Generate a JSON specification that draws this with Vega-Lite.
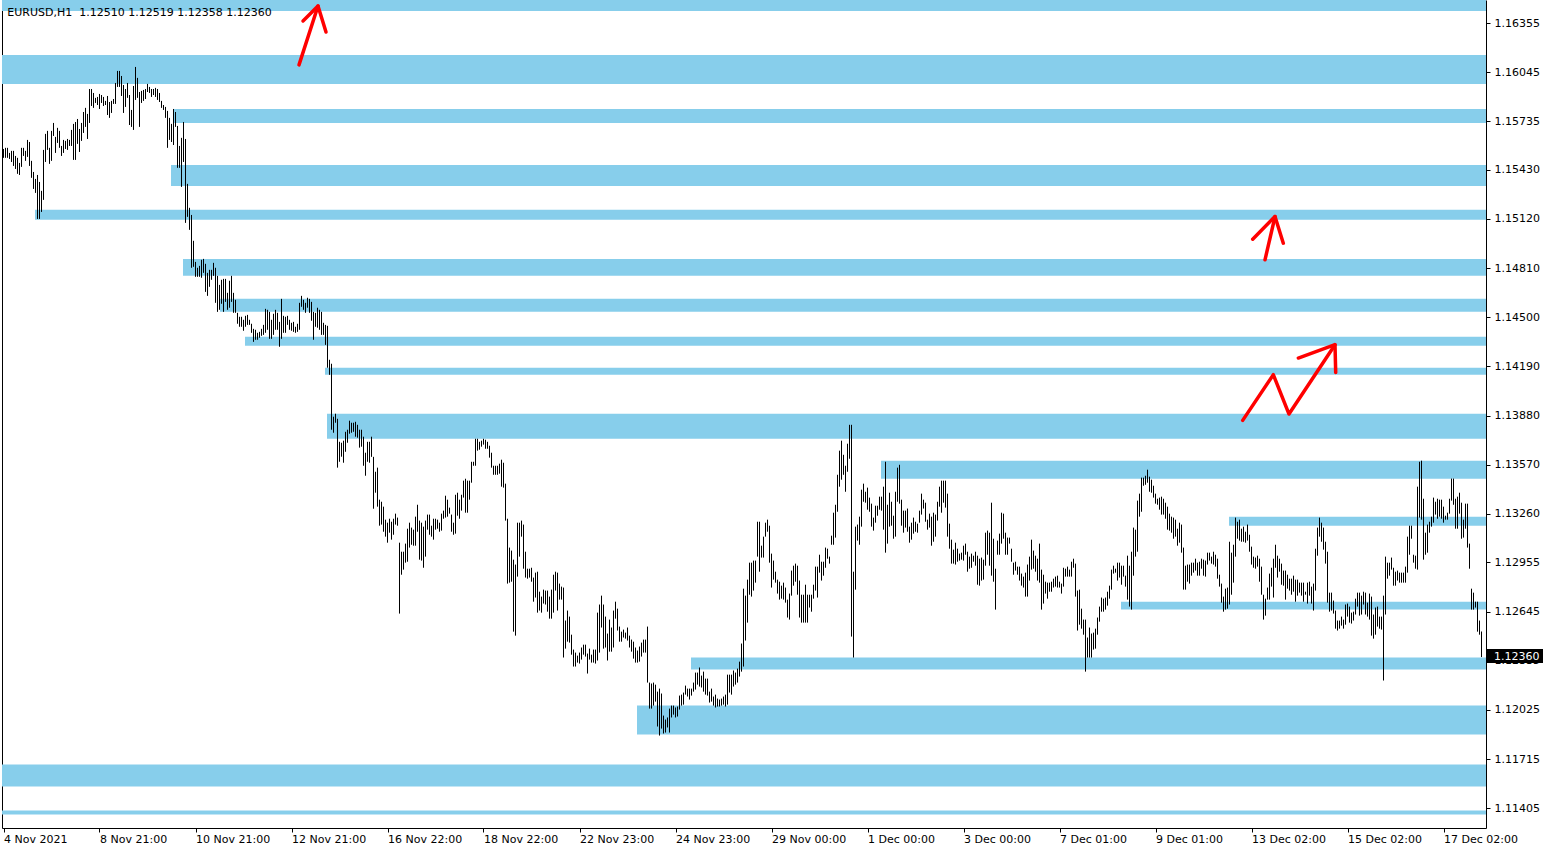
{
"$schema":"https://vega.github.io/schema/vega-lite/v6.json",
"width":1484,"height":828,"autosize":"none",
"padding":{"left":2,"top":0,"right":64,"bottom":22},
"background":"white",
"config":{"view":{"stroke":null},"axis":{"grid":false,"labelFont":"DejaVu Sans","labelFontSize":11,"labelColor":"#000","domainColor":"#000","tickColor":"#000","title":null,"zindex":1}},
"datasets":{
"zones":[{"s":-0.75,"t":1.165,"b":1.16431},{"s":-0.75,"t":1.16154,"b":1.15971},{"s":84.75,"t":1.15813,"b":1.15725},{"s":83.75,"t":1.1546,"b":1.15328},{"s":15.75,"t":1.15177,"b":1.15114},{"s":89.75,"t":1.14868,"b":1.14761},{"s":108.25,"t":1.14616,"b":1.14534},{"s":120.75,"t":1.14377,"b":1.1432},{"s":160.75,"t":1.14182,"b":1.14137},{"s":161.75,"t":1.13892,"b":1.13734},{"s":438.75,"t":1.13596,"b":1.13482},{"s":612.75,"t":1.13243,"b":1.13186},{"s":558.75,"t":1.12707,"b":1.12657},{"s":343.75,"t":1.12355,"b":1.12279},{"s":316.75,"t":1.12052,"b":1.1187},{"s":-0.75,"t":1.11681,"b":1.11542},{"s":-0.75,"t":1.11391,"b":1.11366}],
"arrows":[{"seg":"a1","k":0,"i":147.75,"p":1.16091},{"seg":"a1","k":1,"i":157.25,"p":1.16462},{"seg":"a1h","k":0,"i":149.75,"p":1.16368},{"seg":"a1h","k":1,"i":157.25,"p":1.16462},{"seg":"a1h","k":2,"i":161.25,"p":1.16298},{"seg":"a2","k":0,"i":630.75,"p":1.14862},{"seg":"a2","k":1,"i":635.75,"p":1.15135},{"seg":"a2h","k":0,"i":624.6,"p":1.14992},{"seg":"a2h","k":1,"i":635.75,"p":1.15135},{"seg":"a2h","k":2,"i":639.9,"p":1.14967},{"seg":"a3","k":0,"i":619.6,"p":1.1385},{"seg":"a3","k":1,"i":634.9,"p":1.14138},{"seg":"a3","k":2,"i":642.75,"p":1.1389},{"seg":"a3","k":3,"i":665.75,"p":1.14327},{"seg":"a3h","k":0,"i":647.4,"p":1.14243},{"seg":"a3h","k":1,"i":665.75,"p":1.14327},{"seg":"a3h","k":2,"i":666.1,"p":1.14152}],
"header":[{"t":"EURUSD,H1\u00a0 1.12510 1.12519 1.12358 1.12360"}],
"price":[{"p":1.1236,"t":"1.12360"}],
"bars":[
{"i":0,"h":1.15561,"l":1.15505},{"i":1,"h":1.15568,"l":1.15505},{"i":2,"h":1.15568,"l":1.15505},{"i":3,"h":1.15536,"l":1.15498},{"i":4,"h":1.15549,"l":1.15479},{"i":5,"h":1.15549,"l":1.15454},{"i":6,"h":1.15517,"l":1.15435},{"i":7,"h":1.15505,"l":1.15404},{"i":8,"h":1.15473,"l":1.15397},{"i":9,"h":1.15568,"l":1.15448},
{"i":10,"h":1.15568,"l":1.15517},{"i":11,"h":1.15549,"l":1.15486},{"i":12,"h":1.15618,"l":1.15511},{"i":13,"h":1.15605,"l":1.15454},{"i":14,"h":1.15486,"l":1.15379},{"i":15,"h":1.15416,"l":1.15309},{"i":16,"h":1.15372,"l":1.15284},{"i":17,"h":1.15397,"l":1.1512},{"i":18,"h":1.15353,"l":1.1512},{"i":19,"h":1.15297,"l":1.15164},
{"i":20,"h":1.15555,"l":1.1524},{"i":21,"h":1.15656,"l":1.15479},{"i":22,"h":1.15675,"l":1.15555},{"i":23,"h":1.15568,"l":1.15467},{"i":24,"h":1.15675,"l":1.15486},{"i":25,"h":1.15725,"l":1.15643},{"i":26,"h":1.15637,"l":1.15536},{"i":27,"h":1.15694,"l":1.15599},{"i":28,"h":1.15675,"l":1.15568},{"i":29,"h":1.1558,"l":1.15517},
{"i":30,"h":1.15618,"l":1.15536},{"i":31,"h":1.15612,"l":1.15561},{"i":32,"h":1.15624,"l":1.15555},{"i":33,"h":1.15618,"l":1.1558},{"i":34,"h":1.15681,"l":1.1558},{"i":35,"h":1.15719,"l":1.15492},{"i":36,"h":1.15731,"l":1.15492},{"i":37,"h":1.1575,"l":1.15593},{"i":38,"h":1.15687,"l":1.15542},{"i":39,"h":1.15725,"l":1.15612},
{"i":40,"h":1.15794,"l":1.15662},{"i":41,"h":1.1582,"l":1.157},{"i":42,"h":1.15782,"l":1.15624},{"i":43,"h":1.15939,"l":1.15725},{"i":44,"h":1.15939,"l":1.15832},{"i":45,"h":1.15914,"l":1.1582},{"i":46,"h":1.15883,"l":1.15851},{"i":47,"h":1.15889,"l":1.15838},{"i":48,"h":1.15908,"l":1.15813},{"i":49,"h":1.15901,"l":1.15851},
{"i":50,"h":1.15889,"l":1.15832},{"i":51,"h":1.15864,"l":1.15838},{"i":52,"h":1.15895,"l":1.15775},{"i":53,"h":1.15857,"l":1.15757},{"i":54,"h":1.15864,"l":1.15788},{"i":55,"h":1.15876,"l":1.15845},{"i":56,"h":1.15977,"l":1.15845},{"i":57,"h":1.16053,"l":1.15952},{"i":58,"h":1.16053,"l":1.15952},{"i":59,"h":1.16021,"l":1.15895},
{"i":60,"h":1.15964,"l":1.15788},{"i":61,"h":1.15939,"l":1.15826},{"i":62,"h":1.15977,"l":1.15883},{"i":63,"h":1.15901,"l":1.15712},{"i":64,"h":1.15807,"l":1.157},{"i":65,"h":1.15958,"l":1.15681},{"i":66,"h":1.16078,"l":1.1587},{"i":67,"h":1.16009,"l":1.15883},{"i":68,"h":1.1592,"l":1.157},{"i":69,"h":1.15927,"l":1.15851},
{"i":70,"h":1.15933,"l":1.15864},{"i":71,"h":1.15939,"l":1.15876},{"i":72,"h":1.15971,"l":1.1592},{"i":73,"h":1.15952,"l":1.15914},{"i":74,"h":1.15939,"l":1.15889},{"i":75,"h":1.15939,"l":1.15901},{"i":76,"h":1.15946,"l":1.15889},{"i":77,"h":1.15939,"l":1.1587},{"i":78,"h":1.15914,"l":1.15857},{"i":79,"h":1.15864,"l":1.1582},
{"i":80,"h":1.15838,"l":1.15807},{"i":81,"h":1.15826,"l":1.15757},{"i":82,"h":1.15801,"l":1.15568},{"i":83,"h":1.15757,"l":1.15618},{"i":84,"h":1.15719,"l":1.15605},{"i":85,"h":1.15813,"l":1.15586},{"i":86,"h":1.15794,"l":1.157},{"i":87,"h":1.15706,"l":1.15442},{"i":88,"h":1.1558,"l":1.15442},{"i":89,"h":1.15631,"l":1.15322},
{"i":90,"h":1.15731,"l":1.15479},{"i":91,"h":1.15624,"l":1.15095},{"i":92,"h":1.15341,"l":1.15133},{"i":93,"h":1.1519,"l":1.15051},{"i":94,"h":1.15145,"l":1.14812},{"i":95,"h":1.14982,"l":1.14818},{"i":96,"h":1.14849,"l":1.14755},{"i":97,"h":1.14812,"l":1.14755},{"i":98,"h":1.14824,"l":1.14755},{"i":99,"h":1.14862,"l":1.14749},
{"i":100,"h":1.14868,"l":1.1478},{"i":101,"h":1.14837,"l":1.1466},{"i":102,"h":1.1478,"l":1.14635},{"i":103,"h":1.14799,"l":1.14692},{"i":104,"h":1.14799,"l":1.14736},{"i":105,"h":1.14843,"l":1.14761},{"i":106,"h":1.14812,"l":1.14591},{"i":107,"h":1.14761,"l":1.14534},{"i":108,"h":1.14704,"l":1.14547},{"i":109,"h":1.14736,"l":1.14585},
{"i":110,"h":1.14742,"l":1.14534},{"i":111,"h":1.14742,"l":1.14597},{"i":112,"h":1.14654,"l":1.14547},{"i":113,"h":1.1473,"l":1.1456},{"i":114,"h":1.14761,"l":1.14597},{"i":115,"h":1.14654,"l":1.14528},{"i":116,"h":1.1461,"l":1.14528},{"i":117,"h":1.14528,"l":1.14459},{"i":118,"h":1.14503,"l":1.1444},{"i":119,"h":1.14503,"l":1.1444},
{"i":120,"h":1.14484,"l":1.14415},{"i":121,"h":1.14509,"l":1.1444},{"i":122,"h":1.14515,"l":1.14452},{"i":123,"h":1.14484,"l":1.14452},{"i":124,"h":1.14459,"l":1.14402},{"i":125,"h":1.14427,"l":1.14345},{"i":126,"h":1.14421,"l":1.14358},{"i":127,"h":1.14402,"l":1.14358},{"i":128,"h":1.14408,"l":1.14371},{"i":129,"h":1.14427,"l":1.14383},
{"i":130,"h":1.14452,"l":1.14389},{"i":131,"h":1.14553,"l":1.14402},{"i":132,"h":1.14547,"l":1.14421},{"i":133,"h":1.14534,"l":1.14364},{"i":134,"h":1.14484,"l":1.14364},{"i":135,"h":1.14522,"l":1.14389},{"i":136,"h":1.14547,"l":1.14421},{"i":137,"h":1.14528,"l":1.14421},{"i":138,"h":1.14471,"l":1.14314},{"i":139,"h":1.14616,"l":1.14364},
{"i":140,"h":1.14509,"l":1.14402},{"i":141,"h":1.14503,"l":1.14402},{"i":142,"h":1.14509,"l":1.14452},{"i":143,"h":1.14484,"l":1.14421},{"i":144,"h":1.14465,"l":1.14415},{"i":145,"h":1.14471,"l":1.14408},{"i":146,"h":1.1444,"l":1.14402},{"i":147,"h":1.14459,"l":1.14408},{"i":148,"h":1.14591,"l":1.14421},{"i":149,"h":1.14635,"l":1.14566},
{"i":150,"h":1.1461,"l":1.14547},{"i":151,"h":1.14591,"l":1.14528},{"i":152,"h":1.14623,"l":1.1456},{"i":153,"h":1.14616,"l":1.14528},{"i":154,"h":1.14597,"l":1.14478},{"i":155,"h":1.14534,"l":1.14358},{"i":156,"h":1.14528,"l":1.1444},{"i":157,"h":1.1456,"l":1.14434},{"i":158,"h":1.14547,"l":1.14421},{"i":159,"h":1.14534,"l":1.14389},
{"i":160,"h":1.14465,"l":1.14389},{"i":161,"h":1.14452,"l":1.14326},{"i":162,"h":1.14446,"l":1.14182},{"i":163,"h":1.14232,"l":1.14137},{"i":164,"h":1.14207,"l":1.13791},{"i":165,"h":1.13873,"l":1.13772},{"i":166,"h":1.13892,"l":1.13835},{"i":167,"h":1.1386,"l":1.13552},{"i":168,"h":1.13715,"l":1.13589},{"i":169,"h":1.13709,"l":1.13621},
{"i":170,"h":1.13722,"l":1.13583},{"i":171,"h":1.13778,"l":1.13652},{"i":172,"h":1.13791,"l":1.13709},{"i":173,"h":1.13848,"l":1.13766},{"i":174,"h":1.13835,"l":1.13772},{"i":175,"h":1.13835,"l":1.13778},{"i":176,"h":1.13841,"l":1.13747},{"i":177,"h":1.13822,"l":1.13741},{"i":178,"h":1.13791,"l":1.13678},{"i":179,"h":1.13791,"l":1.13684},
{"i":180,"h":1.13747,"l":1.13564},{"i":181,"h":1.13646,"l":1.13501},{"i":182,"h":1.13715,"l":1.13589},{"i":183,"h":1.13715,"l":1.13583},{"i":184,"h":1.13747,"l":1.1362},{"i":185,"h":1.1362,"l":1.13293},{"i":186,"h":1.13526,"l":1.13394},{"i":187,"h":1.13552,"l":1.13306},{"i":188,"h":1.1335,"l":1.13186},{"i":189,"h":1.13337,"l":1.13193},
{"i":190,"h":1.13306,"l":1.13148},{"i":191,"h":1.13224,"l":1.13117},{"i":192,"h":1.13205,"l":1.13079},{"i":193,"h":1.1323,"l":1.13142},{"i":194,"h":1.13211,"l":1.13098},{"i":195,"h":1.1323,"l":1.13129},{"i":196,"h":1.13262,"l":1.13193},{"i":197,"h":1.13237,"l":1.13186},{"i":198,"h":1.13079,"l":1.12632},{"i":199,"h":1.13022,"l":1.12877},
{"i":200,"h":1.13022,"l":1.12909},{"i":201,"h":1.13073,"l":1.12953},{"i":202,"h":1.13167,"l":1.12959},{"i":203,"h":1.13205,"l":1.13048},{"i":204,"h":1.13174,"l":1.13066},{"i":205,"h":1.13161,"l":1.1306},{"i":206,"h":1.13243,"l":1.1306},{"i":207,"h":1.13318,"l":1.13148},{"i":208,"h":1.13218,"l":1.12972},{"i":209,"h":1.13205,"l":1.12966},
{"i":210,"h":1.1318,"l":1.12921},{"i":211,"h":1.13218,"l":1.12991},{"i":212,"h":1.13256,"l":1.13161},{"i":213,"h":1.13256,"l":1.13129},{"i":214,"h":1.13186,"l":1.13117},{"i":215,"h":1.1323,"l":1.13098},{"i":216,"h":1.1323,"l":1.13161},{"i":217,"h":1.13224,"l":1.13167},{"i":218,"h":1.13205,"l":1.13148},{"i":219,"h":1.13262,"l":1.13155},
{"i":220,"h":1.13281,"l":1.1323},{"i":221,"h":1.13375,"l":1.13237},{"i":222,"h":1.1335,"l":1.13243},{"i":223,"h":1.133,"l":1.13262},{"i":224,"h":1.13256,"l":1.13148},{"i":225,"h":1.13205,"l":1.13129},{"i":226,"h":1.13381,"l":1.13136},{"i":227,"h":1.13394,"l":1.13249},{"i":228,"h":1.1335,"l":1.1323},{"i":229,"h":1.13381,"l":1.13281},
{"i":230,"h":1.1347,"l":1.13363},{"i":231,"h":1.13482,"l":1.13268},{"i":232,"h":1.1347,"l":1.13268},{"i":233,"h":1.1347,"l":1.1335},{"i":234,"h":1.13589,"l":1.13457},{"i":235,"h":1.13589,"l":1.13564},{"i":236,"h":1.13734,"l":1.13564},{"i":237,"h":1.13734,"l":1.13659},{"i":238,"h":1.13715,"l":1.13665},{"i":239,"h":1.13722,"l":1.13684},
{"i":240,"h":1.13734,"l":1.13697},{"i":241,"h":1.13728,"l":1.13671},{"i":242,"h":1.13715,"l":1.13671},{"i":243,"h":1.1369,"l":1.13615},{"i":244,"h":1.13646,"l":1.13552},{"i":245,"h":1.13564,"l":1.13507},{"i":246,"h":1.13564,"l":1.13507},{"i":247,"h":1.13564,"l":1.13507},{"i":248,"h":1.13577,"l":1.13514},{"i":249,"h":1.13602,"l":1.13432},
{"i":250,"h":1.13583,"l":1.13426},{"i":251,"h":1.13451,"l":1.13218},{"i":252,"h":1.1323,"l":1.12821},{"i":253,"h":1.13048,"l":1.12827},{"i":254,"h":1.13029,"l":1.12833},{"i":255,"h":1.12972,"l":1.12518},{"i":256,"h":1.12941,"l":1.12493},{"i":257,"h":1.13205,"l":1.12865},{"i":258,"h":1.13205,"l":1.12991},{"i":259,"h":1.13218,"l":1.13117},
{"i":260,"h":1.13193,"l":1.12915},{"i":261,"h":1.13022,"l":1.12859},{"i":262,"h":1.12915,"l":1.12852},{"i":263,"h":1.12915,"l":1.12859},{"i":264,"h":1.12921,"l":1.12833},{"i":265,"h":1.12859,"l":1.12707},{"i":266,"h":1.1289,"l":1.12733},{"i":267,"h":1.12896,"l":1.12638},{"i":268,"h":1.1277,"l":1.12651},{"i":269,"h":1.12739,"l":1.12638},
{"i":270,"h":1.12783,"l":1.12695},{"i":271,"h":1.12777,"l":1.12689},{"i":272,"h":1.12777,"l":1.12644},{"i":273,"h":1.12739,"l":1.126},{"i":274,"h":1.12783,"l":1.126},{"i":275,"h":1.12877,"l":1.12638},{"i":276,"h":1.12896,"l":1.12777},{"i":277,"h":1.1289,"l":1.12651},{"i":278,"h":1.12821,"l":1.1272},{"i":279,"h":1.12802,"l":1.1272},
{"i":280,"h":1.12796,"l":1.12355},{"i":281,"h":1.12588,"l":1.12411},{"i":282,"h":1.12651,"l":1.12455},{"i":283,"h":1.12613,"l":1.12449},{"i":284,"h":1.12499,"l":1.12373},{"i":285,"h":1.12405,"l":1.12298},{"i":286,"h":1.12386,"l":1.12298},{"i":287,"h":1.12367,"l":1.12323},{"i":288,"h":1.12386,"l":1.12317},{"i":289,"h":1.12418,"l":1.12342},
{"i":290,"h":1.12436,"l":1.12373},{"i":291,"h":1.12436,"l":1.12361},{"i":292,"h":1.1238,"l":1.12254},{"i":293,"h":1.12411,"l":1.12342},{"i":294,"h":1.12373,"l":1.12323},{"i":295,"h":1.12405,"l":1.12323},{"i":296,"h":1.12405,"l":1.12317},{"i":297,"h":1.12638,"l":1.12336},{"i":298,"h":1.12689,"l":1.12386},{"i":299,"h":1.12745,"l":1.12544},
{"i":300,"h":1.12689,"l":1.12411},{"i":301,"h":1.12613,"l":1.12418},{"i":302,"h":1.12506,"l":1.12336},{"i":303,"h":1.12594,"l":1.12392},{"i":304,"h":1.12544,"l":1.12392},{"i":305,"h":1.12651,"l":1.12418},{"i":306,"h":1.12707,"l":1.126},{"i":307,"h":1.12663,"l":1.12525},{"i":308,"h":1.1255,"l":1.12455},{"i":309,"h":1.12518,"l":1.12455},
{"i":310,"h":1.12531,"l":1.12481},{"i":311,"h":1.12512,"l":1.12474},{"i":312,"h":1.12544,"l":1.12462},{"i":313,"h":1.12493,"l":1.12418},{"i":314,"h":1.12468,"l":1.12392},{"i":315,"h":1.12455,"l":1.12348},{"i":316,"h":1.12418,"l":1.12323},{"i":317,"h":1.12399,"l":1.12323},{"i":318,"h":1.12424,"l":1.12329},{"i":319,"h":1.12449,"l":1.12361},
{"i":320,"h":1.12468,"l":1.12386},{"i":321,"h":1.12468,"l":1.12386},{"i":322,"h":1.1255,"l":1.12197},{"i":323,"h":1.12197,"l":1.12033},{"i":324,"h":1.12191,"l":1.12033},{"i":325,"h":1.12197,"l":1.12052},{"i":326,"h":1.12184,"l":1.12077},{"i":327,"h":1.1214,"l":1.1192},{"i":328,"h":1.12159,"l":1.11863},{"i":329,"h":1.12128,"l":1.11907},
{"i":330,"h":1.11989,"l":1.11876},{"i":331,"h":1.11964,"l":1.11882},{"i":332,"h":1.11977,"l":1.11914},{"i":333,"h":1.12033,"l":1.11882},{"i":334,"h":1.12052,"l":1.11977},{"i":335,"h":1.12052,"l":1.11995},{"i":336,"h":1.1204,"l":1.11977},{"i":337,"h":1.12046,"l":1.11983},{"i":338,"h":1.12115,"l":1.12027},{"i":339,"h":1.12121,"l":1.12052},
{"i":340,"h":1.12134,"l":1.12058},{"i":341,"h":1.12178,"l":1.12121},{"i":342,"h":1.12159,"l":1.12109},{"i":343,"h":1.12159,"l":1.1209},{"i":344,"h":1.12159,"l":1.12115},{"i":345,"h":1.12197,"l":1.1214},{"i":346,"h":1.1226,"l":1.12153},{"i":347,"h":1.1226,"l":1.12184},{"i":348,"h":1.12292,"l":1.12172},{"i":349,"h":1.12241,"l":1.12166},
{"i":350,"h":1.12266,"l":1.1214},{"i":351,"h":1.12222,"l":1.12121},{"i":352,"h":1.12222,"l":1.12115},{"i":353,"h":1.1214,"l":1.12071},{"i":354,"h":1.12159,"l":1.12077},{"i":355,"h":1.12109,"l":1.12052},{"i":356,"h":1.12121,"l":1.1204},{"i":357,"h":1.12096,"l":1.12046},{"i":358,"h":1.1209,"l":1.12046},{"i":359,"h":1.12096,"l":1.12052},
{"i":360,"h":1.12109,"l":1.12058},{"i":361,"h":1.12121,"l":1.12046},{"i":362,"h":1.12247,"l":1.12058},{"i":363,"h":1.12247,"l":1.12134},{"i":364,"h":1.12247,"l":1.12121},{"i":365,"h":1.12273,"l":1.12172},{"i":366,"h":1.1226,"l":1.12184},{"i":367,"h":1.12285,"l":1.12197},{"i":368,"h":1.12329,"l":1.12235},{"i":369,"h":1.12443,"l":1.12266},
{"i":370,"h":1.12789,"l":1.12298},{"i":371,"h":1.12745,"l":1.12462},{"i":372,"h":1.12846,"l":1.12575},{"i":373,"h":1.12953,"l":1.12751},{"i":374,"h":1.12953,"l":1.12739},{"i":375,"h":1.12966,"l":1.12777},{"i":376,"h":1.12966,"l":1.12827},{"i":377,"h":1.13211,"l":1.12991},{"i":378,"h":1.13211,"l":1.12896},{"i":379,"h":1.1306,"l":1.12985},
{"i":380,"h":1.13117,"l":1.12985},{"i":381,"h":1.13205,"l":1.13117},{"i":382,"h":1.13224,"l":1.13148},{"i":383,"h":1.13186,"l":1.12953},{"i":384,"h":1.1301,"l":1.12796},{"i":385,"h":1.12966,"l":1.12846},{"i":386,"h":1.12896,"l":1.12827},{"i":387,"h":1.12846,"l":1.12758},{"i":388,"h":1.12833,"l":1.1272},{"i":389,"h":1.12808,"l":1.12726},
{"i":390,"h":1.12827,"l":1.1272},{"i":391,"h":1.12796,"l":1.12701},{"i":392,"h":1.1272,"l":1.12607},{"i":393,"h":1.12758,"l":1.12594},{"i":394,"h":1.12903,"l":1.12745},{"i":395,"h":1.12934,"l":1.12808},{"i":396,"h":1.12947,"l":1.12833},{"i":397,"h":1.12934,"l":1.12751},{"i":398,"h":1.1284,"l":1.12607},{"i":399,"h":1.12751,"l":1.12575},
{"i":400,"h":1.12751,"l":1.12575},{"i":401,"h":1.12814,"l":1.12575},{"i":402,"h":1.12751,"l":1.12575},{"i":403,"h":1.12751,"l":1.1267},{"i":404,"h":1.12751,"l":1.12644},{"i":405,"h":1.12814,"l":1.12726},{"i":406,"h":1.12928,"l":1.12777},{"i":407,"h":1.12928,"l":1.12733},{"i":408,"h":1.13003,"l":1.1289},{"i":409,"h":1.12959,"l":1.1284},
{"i":410,"h":1.12959,"l":1.12871},{"i":411,"h":1.13048,"l":1.12921},{"i":412,"h":1.13041,"l":1.12978},{"i":413,"h":1.12991,"l":1.12947},{"i":414,"h":1.13123,"l":1.13066},{"i":415,"h":1.13268,"l":1.13066},{"i":416,"h":1.13318,"l":1.13111},{"i":417,"h":1.13507,"l":1.13274},{"i":418,"h":1.13659,"l":1.13432},{"i":419,"h":1.13722,"l":1.13476},
{"i":420,"h":1.13633,"l":1.13507},{"i":421,"h":1.13564,"l":1.134},{"i":422,"h":1.13703,"l":1.13526},{"i":423,"h":1.13822,"l":1.13608},{"i":424,"h":1.13822,"l":1.12487},{"i":425,"h":1.12896,"l":1.12355},{"i":426,"h":1.1318,"l":1.12783},{"i":427,"h":1.13193,"l":1.13092},{"i":428,"h":1.13243,"l":1.13066},{"i":429,"h":1.13413,"l":1.1318},
{"i":430,"h":1.13451,"l":1.13337},{"i":431,"h":1.134,"l":1.13331},{"i":432,"h":1.13426,"l":1.13287},{"i":433,"h":1.13363,"l":1.13274},{"i":434,"h":1.13325,"l":1.1318},{"i":435,"h":1.13237,"l":1.13155},{"i":436,"h":1.13312,"l":1.13205},{"i":437,"h":1.13312,"l":1.13249},{"i":438,"h":1.13369,"l":1.13287},{"i":439,"h":1.13369,"l":1.13281},
{"i":440,"h":1.13432,"l":1.13161},{"i":441,"h":1.13589,"l":1.13016},{"i":442,"h":1.13318,"l":1.13073},{"i":443,"h":1.13394,"l":1.1318},{"i":444,"h":1.13337,"l":1.13186},{"i":445,"h":1.13249,"l":1.13104},{"i":446,"h":1.134,"l":1.13117},{"i":447,"h":1.13552,"l":1.13337},{"i":448,"h":1.1357,"l":1.13325},{"i":449,"h":1.1335,"l":1.13186},
{"i":450,"h":1.13281,"l":1.13142},{"i":451,"h":1.13281,"l":1.13174},{"i":452,"h":1.13294,"l":1.13148},{"i":453,"h":1.1318,"l":1.13079},{"i":454,"h":1.13205,"l":1.13098},{"i":455,"h":1.13237,"l":1.13136},{"i":456,"h":1.13211,"l":1.13148},{"i":457,"h":1.13199,"l":1.13142},{"i":458,"h":1.13281,"l":1.13205},{"i":459,"h":1.13388,"l":1.13256},
{"i":460,"h":1.1335,"l":1.13294},{"i":461,"h":1.13331,"l":1.13211},{"i":462,"h":1.13224,"l":1.13161},{"i":463,"h":1.13262,"l":1.13174},{"i":464,"h":1.13243,"l":1.1306},{"i":465,"h":1.13268,"l":1.13085},{"i":466,"h":1.13256,"l":1.13117},{"i":467,"h":1.13337,"l":1.13218},{"i":468,"h":1.13432,"l":1.13306},{"i":469,"h":1.1347,"l":1.13268},
{"i":470,"h":1.1347,"l":1.13331},{"i":471,"h":1.1347,"l":1.133},{"i":472,"h":1.13388,"l":1.13117},{"i":473,"h":1.13199,"l":1.13041},{"i":474,"h":1.13098,"l":1.12947},{"i":475,"h":1.13035,"l":1.12947},{"i":476,"h":1.13079,"l":1.12941},{"i":477,"h":1.13041,"l":1.12959},{"i":478,"h":1.1301,"l":1.12966},{"i":479,"h":1.13016,"l":1.12972},
{"i":480,"h":1.1306,"l":1.12966},{"i":481,"h":1.13073,"l":1.13003},{"i":482,"h":1.13022,"l":1.12896},{"i":483,"h":1.12991,"l":1.12915},{"i":484,"h":1.1301,"l":1.12921},{"i":485,"h":1.12997,"l":1.12959},{"i":486,"h":1.13022,"l":1.12934},{"i":487,"h":1.12997,"l":1.12814},{"i":488,"h":1.12978,"l":1.12808},{"i":489,"h":1.12985,"l":1.1284},
{"i":490,"h":1.12972,"l":1.12846},{"i":491,"h":1.13142,"l":1.12934},{"i":492,"h":1.13155,"l":1.13003},{"i":493,"h":1.13142,"l":1.12934},{"i":494,"h":1.13331,"l":1.12871},{"i":495,"h":1.13104,"l":1.12833},{"i":496,"h":1.12915,"l":1.12657},{"i":497,"h":1.13092,"l":1.13003},{"i":498,"h":1.13136,"l":1.13003},{"i":499,"h":1.13268,"l":1.13073},
{"i":500,"h":1.13262,"l":1.13104},{"i":501,"h":1.13142,"l":1.13003},{"i":502,"h":1.13111,"l":1.13003},{"i":503,"h":1.13111,"l":1.13073},{"i":504,"h":1.13041,"l":1.12959},{"i":505,"h":1.12953,"l":1.12877},{"i":506,"h":1.12959,"l":1.12903},{"i":507,"h":1.12928,"l":1.12877},{"i":508,"h":1.12928,"l":1.1284},{"i":509,"h":1.12884,"l":1.12808},
{"i":510,"h":1.12865,"l":1.12796},{"i":511,"h":1.1289,"l":1.12739},{"i":512,"h":1.12941,"l":1.12739},{"i":513,"h":1.12991,"l":1.1284},{"i":514,"h":1.13098,"l":1.12909},{"i":515,"h":1.13029,"l":1.12915},{"i":516,"h":1.12997,"l":1.12896},{"i":517,"h":1.12978,"l":1.1284},{"i":518,"h":1.13073,"l":1.12827},{"i":519,"h":1.12909,"l":1.12657},
{"i":520,"h":1.12877,"l":1.12695},{"i":521,"h":1.12833,"l":1.12758},{"i":522,"h":1.12827,"l":1.12726},{"i":523,"h":1.12827,"l":1.1277},{"i":524,"h":1.12833,"l":1.1277},{"i":525,"h":1.12852,"l":1.12796},{"i":526,"h":1.12865,"l":1.12802},{"i":527,"h":1.12871,"l":1.12796},{"i":528,"h":1.12833,"l":1.12796},{"i":529,"h":1.12821,"l":1.12758},
{"i":530,"h":1.12921,"l":1.12802},{"i":531,"h":1.12915,"l":1.12865},{"i":532,"h":1.12928,"l":1.12865},{"i":533,"h":1.12909,"l":1.12865},{"i":534,"h":1.12959,"l":1.12865},{"i":535,"h":1.12978,"l":1.12921},{"i":536,"h":1.12947,"l":1.12739},{"i":537,"h":1.12777,"l":1.12525},{"i":538,"h":1.12783,"l":1.12562},{"i":539,"h":1.12663,"l":1.12537},
{"i":540,"h":1.12594,"l":1.12499},{"i":541,"h":1.12594,"l":1.12266},{"i":542,"h":1.12481,"l":1.12355},{"i":543,"h":1.12544,"l":1.12355},{"i":544,"h":1.12506,"l":1.12355},{"i":545,"h":1.12512,"l":1.12405},{"i":546,"h":1.12537,"l":1.12411},{"i":547,"h":1.12607,"l":1.12499},{"i":548,"h":1.12676,"l":1.12581},{"i":549,"h":1.12733,"l":1.12644},
{"i":550,"h":1.12726,"l":1.12644},{"i":551,"h":1.12733,"l":1.12657},{"i":552,"h":1.1277,"l":1.12682},{"i":553,"h":1.12808,"l":1.12726},{"i":554,"h":1.12909,"l":1.12783},{"i":555,"h":1.12934,"l":1.12884},{"i":556,"h":1.12915,"l":1.1289},{"i":557,"h":1.12953,"l":1.1284},{"i":558,"h":1.12953,"l":1.12859},{"i":559,"h":1.12934,"l":1.12814},
{"i":560,"h":1.12934,"l":1.12865},{"i":561,"h":1.12871,"l":1.12802},{"i":562,"h":1.12997,"l":1.1272},{"i":563,"h":1.12934,"l":1.12676},{"i":564,"h":1.13022,"l":1.12657},{"i":565,"h":1.13174,"l":1.12871},{"i":566,"h":1.13161,"l":1.12991},{"i":567,"h":1.13344,"l":1.13022},{"i":568,"h":1.13388,"l":1.13243},{"i":569,"h":1.13489,"l":1.13274},
{"i":570,"h":1.13489,"l":1.13438},{"i":571,"h":1.13501,"l":1.13444},{"i":572,"h":1.13539,"l":1.13457},{"i":573,"h":1.13495,"l":1.134},{"i":574,"h":1.13476,"l":1.13394},{"i":575,"h":1.13438,"l":1.13363},{"i":576,"h":1.13388,"l":1.13325},{"i":577,"h":1.13356,"l":1.13318},{"i":578,"h":1.13363,"l":1.13287},{"i":579,"h":1.13369,"l":1.13256},
{"i":580,"h":1.13356,"l":1.13256},{"i":581,"h":1.13331,"l":1.1323},{"i":582,"h":1.13306,"l":1.13161},{"i":583,"h":1.13262,"l":1.13155},{"i":584,"h":1.13243,"l":1.13142},{"i":585,"h":1.13237,"l":1.13104},{"i":586,"h":1.13224,"l":1.13117},{"i":587,"h":1.13167,"l":1.1306},{"i":588,"h":1.13205,"l":1.13079},{"i":589,"h":1.13193,"l":1.13016},
{"i":590,"h":1.13048,"l":1.12783},{"i":591,"h":1.12934,"l":1.12783},{"i":592,"h":1.12941,"l":1.12833},{"i":593,"h":1.12941,"l":1.12821},{"i":594,"h":1.12953,"l":1.12871},{"i":595,"h":1.12953,"l":1.1289},{"i":596,"h":1.12978,"l":1.12903},{"i":597,"h":1.12953,"l":1.12871},{"i":598,"h":1.12959,"l":1.12871},{"i":599,"h":1.12978,"l":1.12915},
{"i":600,"h":1.12972,"l":1.12871},{"i":601,"h":1.12966,"l":1.12865},{"i":602,"h":1.13016,"l":1.12941},{"i":603,"h":1.13016,"l":1.12966},{"i":604,"h":1.12991,"l":1.12947},{"i":605,"h":1.13022,"l":1.12941},{"i":606,"h":1.13003,"l":1.12928},{"i":607,"h":1.12978,"l":1.12852},{"i":608,"h":1.12877,"l":1.12802},{"i":609,"h":1.12821,"l":1.12701},
{"i":610,"h":1.12739,"l":1.12644},{"i":611,"h":1.12789,"l":1.12657},{"i":612,"h":1.12796,"l":1.12663},{"i":613,"h":1.13085,"l":1.12689},{"i":614,"h":1.13016,"l":1.12751},{"i":615,"h":1.13066,"l":1.12827},{"i":616,"h":1.13237,"l":1.12991},{"i":617,"h":1.13211,"l":1.13104},{"i":618,"h":1.13224,"l":1.13092},{"i":619,"h":1.13167,"l":1.13085},
{"i":620,"h":1.1318,"l":1.13085},{"i":621,"h":1.13148,"l":1.13079},{"i":622,"h":1.13193,"l":1.13092},{"i":623,"h":1.13129,"l":1.13022},{"i":624,"h":1.13054,"l":1.12941},{"i":625,"h":1.12991,"l":1.12921},{"i":626,"h":1.12985,"l":1.12915},{"i":627,"h":1.12997,"l":1.12928},{"i":628,"h":1.12978,"l":1.12833},{"i":629,"h":1.12928,"l":1.12751},
{"i":630,"h":1.12751,"l":1.12594},{"i":631,"h":1.12726,"l":1.12619},{"i":632,"h":1.12796,"l":1.1272},{"i":633,"h":1.12884,"l":1.1272},{"i":634,"h":1.12921,"l":1.12802},{"i":635,"h":1.12978,"l":1.12733},{"i":636,"h":1.13066,"l":1.12921},{"i":637,"h":1.12997,"l":1.12859},{"i":638,"h":1.12978,"l":1.12896},{"i":639,"h":1.12947,"l":1.12814},
{"i":640,"h":1.12903,"l":1.12808},{"i":641,"h":1.12903,"l":1.1272},{"i":642,"h":1.12877,"l":1.12789},{"i":643,"h":1.12852,"l":1.12777},{"i":644,"h":1.12852,"l":1.12751},{"i":645,"h":1.12871,"l":1.1277},{"i":646,"h":1.12846,"l":1.12707},{"i":647,"h":1.12846,"l":1.12745},{"i":648,"h":1.12827,"l":1.12764},{"i":649,"h":1.12827,"l":1.12745},
{"i":650,"h":1.12827,"l":1.12707},{"i":651,"h":1.1277,"l":1.12751},{"i":652,"h":1.12827,"l":1.12695},{"i":653,"h":1.12833,"l":1.12745},{"i":654,"h":1.12802,"l":1.12695},{"i":655,"h":1.12821,"l":1.12651},{"i":656,"h":1.13041,"l":1.12777},{"i":657,"h":1.13174,"l":1.12997},{"i":658,"h":1.13237,"l":1.13117},{"i":659,"h":1.13205,"l":1.13085},
{"i":660,"h":1.13174,"l":1.13035},{"i":661,"h":1.13085,"l":1.12947},{"i":662,"h":1.13022,"l":1.12701},{"i":663,"h":1.12764,"l":1.12644},{"i":664,"h":1.12764,"l":1.12651},{"i":665,"h":1.12714,"l":1.12632},{"i":666,"h":1.12651,"l":1.12537},{"i":667,"h":1.12588,"l":1.12525},{"i":668,"h":1.12588,"l":1.12537},{"i":669,"h":1.12613,"l":1.12556},
{"i":670,"h":1.12594,"l":1.12537},{"i":671,"h":1.12689,"l":1.12562},{"i":672,"h":1.12695,"l":1.12613},{"i":673,"h":1.12676,"l":1.12575},{"i":674,"h":1.12638,"l":1.12569},{"i":675,"h":1.12644,"l":1.12588},{"i":676,"h":1.12726,"l":1.12626},{"i":677,"h":1.12764,"l":1.12676},{"i":678,"h":1.12764,"l":1.12619},{"i":679,"h":1.12745,"l":1.12626},
{"i":680,"h":1.1277,"l":1.12689},{"i":681,"h":1.12764,"l":1.12626},{"i":682,"h":1.12701,"l":1.12613},{"i":683,"h":1.12758,"l":1.12594},{"i":684,"h":1.12739,"l":1.12493},{"i":685,"h":1.12626,"l":1.12474},{"i":686,"h":1.1267,"l":1.12499},{"i":687,"h":1.12676,"l":1.1255},{"i":688,"h":1.12613,"l":1.12537},{"i":689,"h":1.12613,"l":1.12531},
{"i":690,"h":1.12745,"l":1.1221},{"i":691,"h":1.12991,"l":1.12626},{"i":692,"h":1.12953,"l":1.12852},{"i":693,"h":1.12953,"l":1.12871},{"i":694,"h":1.12985,"l":1.12909},{"i":695,"h":1.12921,"l":1.12808},{"i":696,"h":1.12896,"l":1.12808},{"i":697,"h":1.12903,"l":1.1284},{"i":698,"h":1.1289,"l":1.12827},{"i":699,"h":1.1289,"l":1.12827},
{"i":700,"h":1.1289,"l":1.12827},{"i":701,"h":1.12928,"l":1.12827},{"i":702,"h":1.13117,"l":1.1289},{"i":703,"h":1.13186,"l":1.13003},{"i":704,"h":1.13186,"l":1.13104},{"i":705,"h":1.13003,"l":1.12953},{"i":706,"h":1.12997,"l":1.12915},{"i":707,"h":1.13432,"l":1.12909},{"i":708,"h":1.13589,"l":1.13237},{"i":709,"h":1.13596,"l":1.13224},
{"i":710,"h":1.13356,"l":1.12972},{"i":711,"h":1.13142,"l":1.13003},{"i":712,"h":1.13193,"l":1.13016},{"i":713,"h":1.13211,"l":1.13142},{"i":714,"h":1.13243,"l":1.1318},{"i":715,"h":1.13363,"l":1.13205},{"i":716,"h":1.13337,"l":1.13256},{"i":717,"h":1.13356,"l":1.1323},{"i":718,"h":1.1335,"l":1.13243},{"i":719,"h":1.1335,"l":1.1323},
{"i":720,"h":1.13306,"l":1.13205},{"i":721,"h":1.13249,"l":1.13224},{"i":722,"h":1.13268,"l":1.13224},{"i":723,"h":1.13356,"l":1.13262},{"i":724,"h":1.13483,"l":1.13344},{"i":725,"h":1.13483,"l":1.13318},{"i":726,"h":1.13356,"l":1.13167},{"i":727,"h":1.13369,"l":1.13167},{"i":728,"h":1.13394,"l":1.13262},{"i":729,"h":1.13331,"l":1.13104},
{"i":730,"h":1.13224,"l":1.13111},{"i":731,"h":1.13325,"l":1.13167},{"i":732,"h":1.13325,"l":1.13048},{"i":733,"h":1.13073,"l":1.12915},{"i":734,"h":1.12789,"l":1.12657},{"i":735,"h":1.12764,"l":1.12657},{"i":736,"h":1.12707,"l":1.1267},{"i":737,"h":1.12707,"l":1.12518},{"i":738,"h":1.12588,"l":1.12499},{"i":739,"h":1.12519,"l":1.12358}
]},
"layer":[
{"data":{"name":"zones"},"mark":{"type":"rect","color":"#87CEEB","strokeWidth":0},
"encoding":{
"x":{"field":"s","type":"quantitative","scale":{"domain":[-0.75,741.25],"nice":false,"zero":false},
"axis":{"orient":"bottom","values":[0,48,96,144,192,240,288,336,384,432,480,528,576,624,672,720],"labelExpr":"['4 Nov 2021','8 Nov 21:00','10 Nov 21:00','12 Nov 21:00','16 Nov 22:00','18 Nov 22:00','22 Nov 23:00','24 Nov 23:00','29 Nov 00:00','1 Dec 00:00','3 Dec 00:00','7 Dec 01:00','9 Dec 01:00','13 Dec 02:00','15 Dec 02:00','17 Dec 02:00'][round(datum.value/48)]","labelAlign":"left","labelBaseline":"top","tickSize":4,"labelPadding":1,"labelOverlap":false,"labelFlush":false,"title":null}},
"x2":{"datum":741.25},
"y":{"field":"t","type":"quantitative","scale":{"domain":[1.112803,1.165],"nice":false,"zero":false},"axis":{"orient":"left","labels":false,"ticks":false,"title":null}},
"y2":{"field":"b"}}},
{"data":{"name":"bars"},"mark":{"type":"rule","color":"#000000","strokeWidth":1},
"encoding":{
"x":{"field":"i","type":"quantitative","scale":{"domain":[-0.75,741.25],"nice":false,"zero":false}},
"y":{"field":"h","type":"quantitative","scale":{"domain":[1.112803,1.165],"nice":false,"zero":false},
"axis":{"orient":"right","values":[1.16355,1.16045,1.15735,1.1543,1.1512,1.1481,1.145,1.1419,1.1388,1.1357,1.1326,1.12955,1.12645,1.12335,1.12025,1.11715,1.11405],"format":".5f","tickSize":4,"labelPadding":4,"labelOverlap":false,"labelFlush":false,"title":null}},
"y2":{"field":"l"}}},
{"data":{"name":"arrows"},"mark":{"type":"line","color":"#FF0000","strokeWidth":3.5,"strokeCap":"round","strokeJoin":"round"},
"encoding":{
"x":{"field":"i","type":"quantitative","scale":{"domain":[-0.75,741.25],"nice":false,"zero":false}},
"y":{"field":"p","type":"quantitative","scale":{"domain":[1.112803,1.165],"nice":false,"zero":false},"axis":null},
"detail":{"field":"seg","type":"nominal"},
"order":{"field":"k","type":"quantitative"}}},
{"data":{"name":"header"},"mark":{"type":"text","align":"left","baseline":"middle","font":"DejaVu Sans","fontSize":11,"color":"#000000"},
"encoding":{
"x":{"datum":1.9,"type":"quantitative"},
"y":{"datum":1.16418,"type":"quantitative","axis":null},
"text":{"field":"t"}}},
{"data":{"name":"price"},"mark":{"type":"rect","color":"#000000"},
"encoding":{
"x":{"datum":741.75,"type":"quantitative"},
"x2":{"datum":769.75},
"y":{"datum":1.12409,"type":"quantitative","axis":null},
"y2":{"datum":1.1232}}},
{"data":{"name":"price"},"mark":{"type":"text","align":"left","baseline":"middle","font":"DejaVu Sans","fontSize":11,"color":"#FFFFFF"},
"encoding":{
"x":{"datum":745.25,"type":"quantitative"},
"y":{"field":"p","type":"quantitative","axis":null},
"text":{"field":"t"}}}
],
"resolve":{"axis":{"y":"independent"}}
}
